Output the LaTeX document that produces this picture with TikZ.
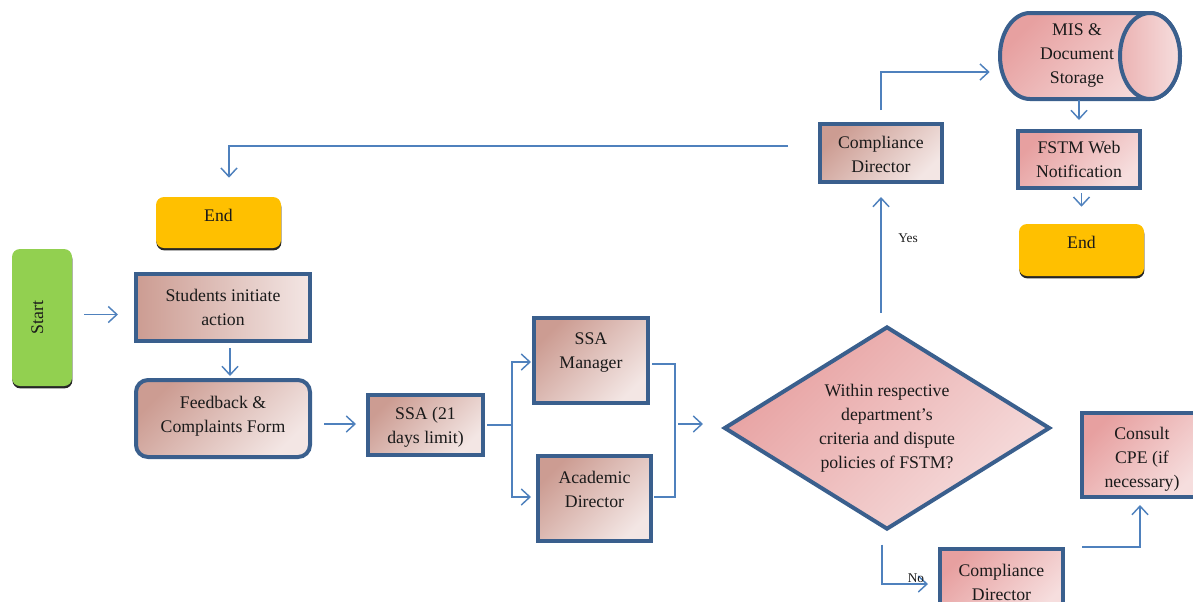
\documentclass[tikz,border=0pt]{standalone}
\usepackage{fontspec}
\setmainfont{Liberation Serif}
\usetikzlibrary{arrows.meta,shapes.geometric,calc,shadows}
\definecolor{lnblue}{HTML}{4F81BD}
\definecolor{bdblue}{HTML}{3A5F8D}
\definecolor{brA}{HTML}{CC9C92}
\definecolor{brB}{HTML}{F3E6E4}
\definecolor{pkA}{HTML}{E7A0A0}
\definecolor{pkB}{HTML}{F6DEDE}
\definecolor{stgreen}{HTML}{92D050}
\definecolor{endyel}{HTML}{FFC000}
\definecolor{txt}{HTML}{1A1A1A}
\newcommand{\dn}[1]{\rule[-#1]{0pt}{#1}}
\begin{document}
\begin{tikzpicture}[x=0.75pt,y=-0.75pt,
  every node/.style={font=\fontsize{13.3}{18}\selectfont, text=txt, align=center},
  brownbox/.style={draw=bdblue, line width=3pt, left color=brA, right color=brB, shading angle=45, inner sep=0pt},
  pinkbox/.style={draw=bdblue, line width=3pt, left color=pkA, right color=pkB, shading angle=45, inner sep=0pt},
  termbox/.style={rounded corners=6pt, inner sep=0pt, drop shadow={shadow xshift=0.3pt, shadow yshift=-1.8pt, opacity=1, fill=black!85}},
  arr/.style={draw=lnblue, line width=1.1pt, -{Straight Barb[length=6.5pt,width=12pt]}},
  ln/.style={draw=lnblue, line width=1.1pt},
  lbl/.style={font=\fontsize{10}{11}\selectfont, inner sep=0pt}
]
\useasboundingbox (0,0) rectangle (1193,601);
\clip (0,0) rectangle (1193,601);

% nodes
\node[termbox, fill=stgreen, minimum width=45pt, minimum height=102.75pt] (start) at (42,317.5) {\rotatebox{90}{Start}\hspace{7pt}};
\node[termbox, fill=endyel, minimum width=93.75pt, minimum height=38.25pt] (end1) at (218.5,222.5) {End\dn{11pt}};
\node[brownbox, left color=brA, right color=brB, shading angle=90, minimum width=130.5pt, minimum height=50.25pt] (students) at (223,307.5) {Students initiate\\action};
\node[brownbox, rounded corners=9pt, minimum width=130.5pt, minimum height=57.75pt] (feedback) at (223,418.5) {Feedback \&\\Complaints Form\dn{6pt}};
\node[brownbox, minimum width=86.25pt, minimum height=45pt] (ssa) at (425.5,425) {\rule{0pt}{12pt}SSA (21\\days limit)};
\node[brownbox, minimum width=85.5pt, minimum height=63.75pt] (mgr) at (591,360.5) {SSA\\Manager\dn{15pt}};
\node[brownbox, minimum width=84.75pt, minimum height=63.75pt] (acad) at (594.5,498.5) {Academic\\Director\dn{14pt}};
\node[pinkbox, diamond, aspect=1.6, minimum width=244.5pt, minimum height=152.25pt] (dec) at (887,428) {Within respective\\department’s\\criteria and dispute\\policies of FSTM?};
\node[brownbox, minimum width=91.5pt, minimum height=43.5pt] (cd1) at (881,153) {\rule{0pt}{12pt}Compliance\\Director};

% cylinder
\path[draw=bdblue, line width=3pt, left color=pkA, right color=pkB, shading angle=45]
  (1150,13) -- (1030,13) arc[start angle=-90, end angle=-270, x radius=30, y radius=43]
  -- (1150,99) arc[start angle=90, end angle=-90, x radius=30, y radius=43] -- cycle;
\path[draw=bdblue, line width=3pt, left color=pkA!70!pkB, right color=pkB] (1150,56) ellipse[x radius=30, y radius=43];
\node[minimum width=135pt, minimum height=64.5pt, inner sep=0pt] (mis) at (1090,56) {};
\node (mistext) at (1077,56) {MIS \&\\Document\\Storage};

\node[pinkbox, minimum width=91.5pt, minimum height=42.75pt] (fstm) at (1079,159.5) {FSTM Web\\Notification};
\node[termbox, fill=endyel, minimum width=93.75pt, minimum height=39pt] (end2) at (1081.5,250) {End\dn{12pt}};
\node[pinkbox, minimum width=92.25pt, minimum height=49.5pt] (cd2) at (1001.5,582) {Compliance\\Director};
\node[pinkbox, minimum width=90pt, minimum height=63pt] (cpe) at (1142,455) {\rule{0pt}{15pt}Consult\\CPE (if\\necessary)};

% labels
\node[lbl] (yes) at (908,238) {Yes};

% connectors
\draw[arr] ($(start.east|-students.west)+(12,7)$) -- ($(students.west)+(-16,7)$);
\draw[arr] ($(students.south)+(7,5)$) -- ($(feedback.north)+(7,-2)$);
\draw[arr] ($(feedback.east|-ssa.west)+(12,-1)$) -- ($(ssa.west)+(-10,-1)$);
\coordinate (split) at ($(ssa.east)+(27,0)$);
\draw[ln] ($(ssa.east)+(2,0)$) -- (split);
\draw[arr] (split) |- ($(mgr.west)+(-1,1.5)$);
\draw[arr] (split) |- ($(acad.west)+(-5,-1.5)$);
\coordinate (merge) at ($(dec.west)+(-47,-4)$);
\draw[ln] ($(mgr.east)+(2,3.5)$) -| (merge);
\draw[ln] ($(acad.east)+(1,-1.5)$) -| (merge);
\draw[arr] ($(merge)+(3,0)$) -- ($(dec.west)+(-19,-4)$);
\draw[arr] ($(cd1.south|-dec.north)+(0,-12)$) -- ($(cd1.south)+(0,13)$);
\draw[arr] ($(cd1.north)+(0,-12)$) |- ($(mis.west)+(-10,16)$);
\draw[arr] ($(cd1.west)+(-30,-7)$) -| ($(end1.north)+(10.5,-19)$);
\draw[arr] ($(fstm.north|-mis.south)+(0,1)$) -- ($(fstm.north)+(0,-9)$);
\draw[arr] ($(end2.north|-fstm.south)+(0,3)$) -- ($(end2.north)+(0,-17)$);
\draw[arr] ($(dec.south)+(-5,13)$) |- ($(cd2.west)+(-10,2)$);
\node[lbl] (no) at (916,578) {No};
\draw[arr] ($(cd2.north east)+(17,0)$) -| ($(cpe.south)+(-2,6)$);
\end{tikzpicture}
\end{document}
